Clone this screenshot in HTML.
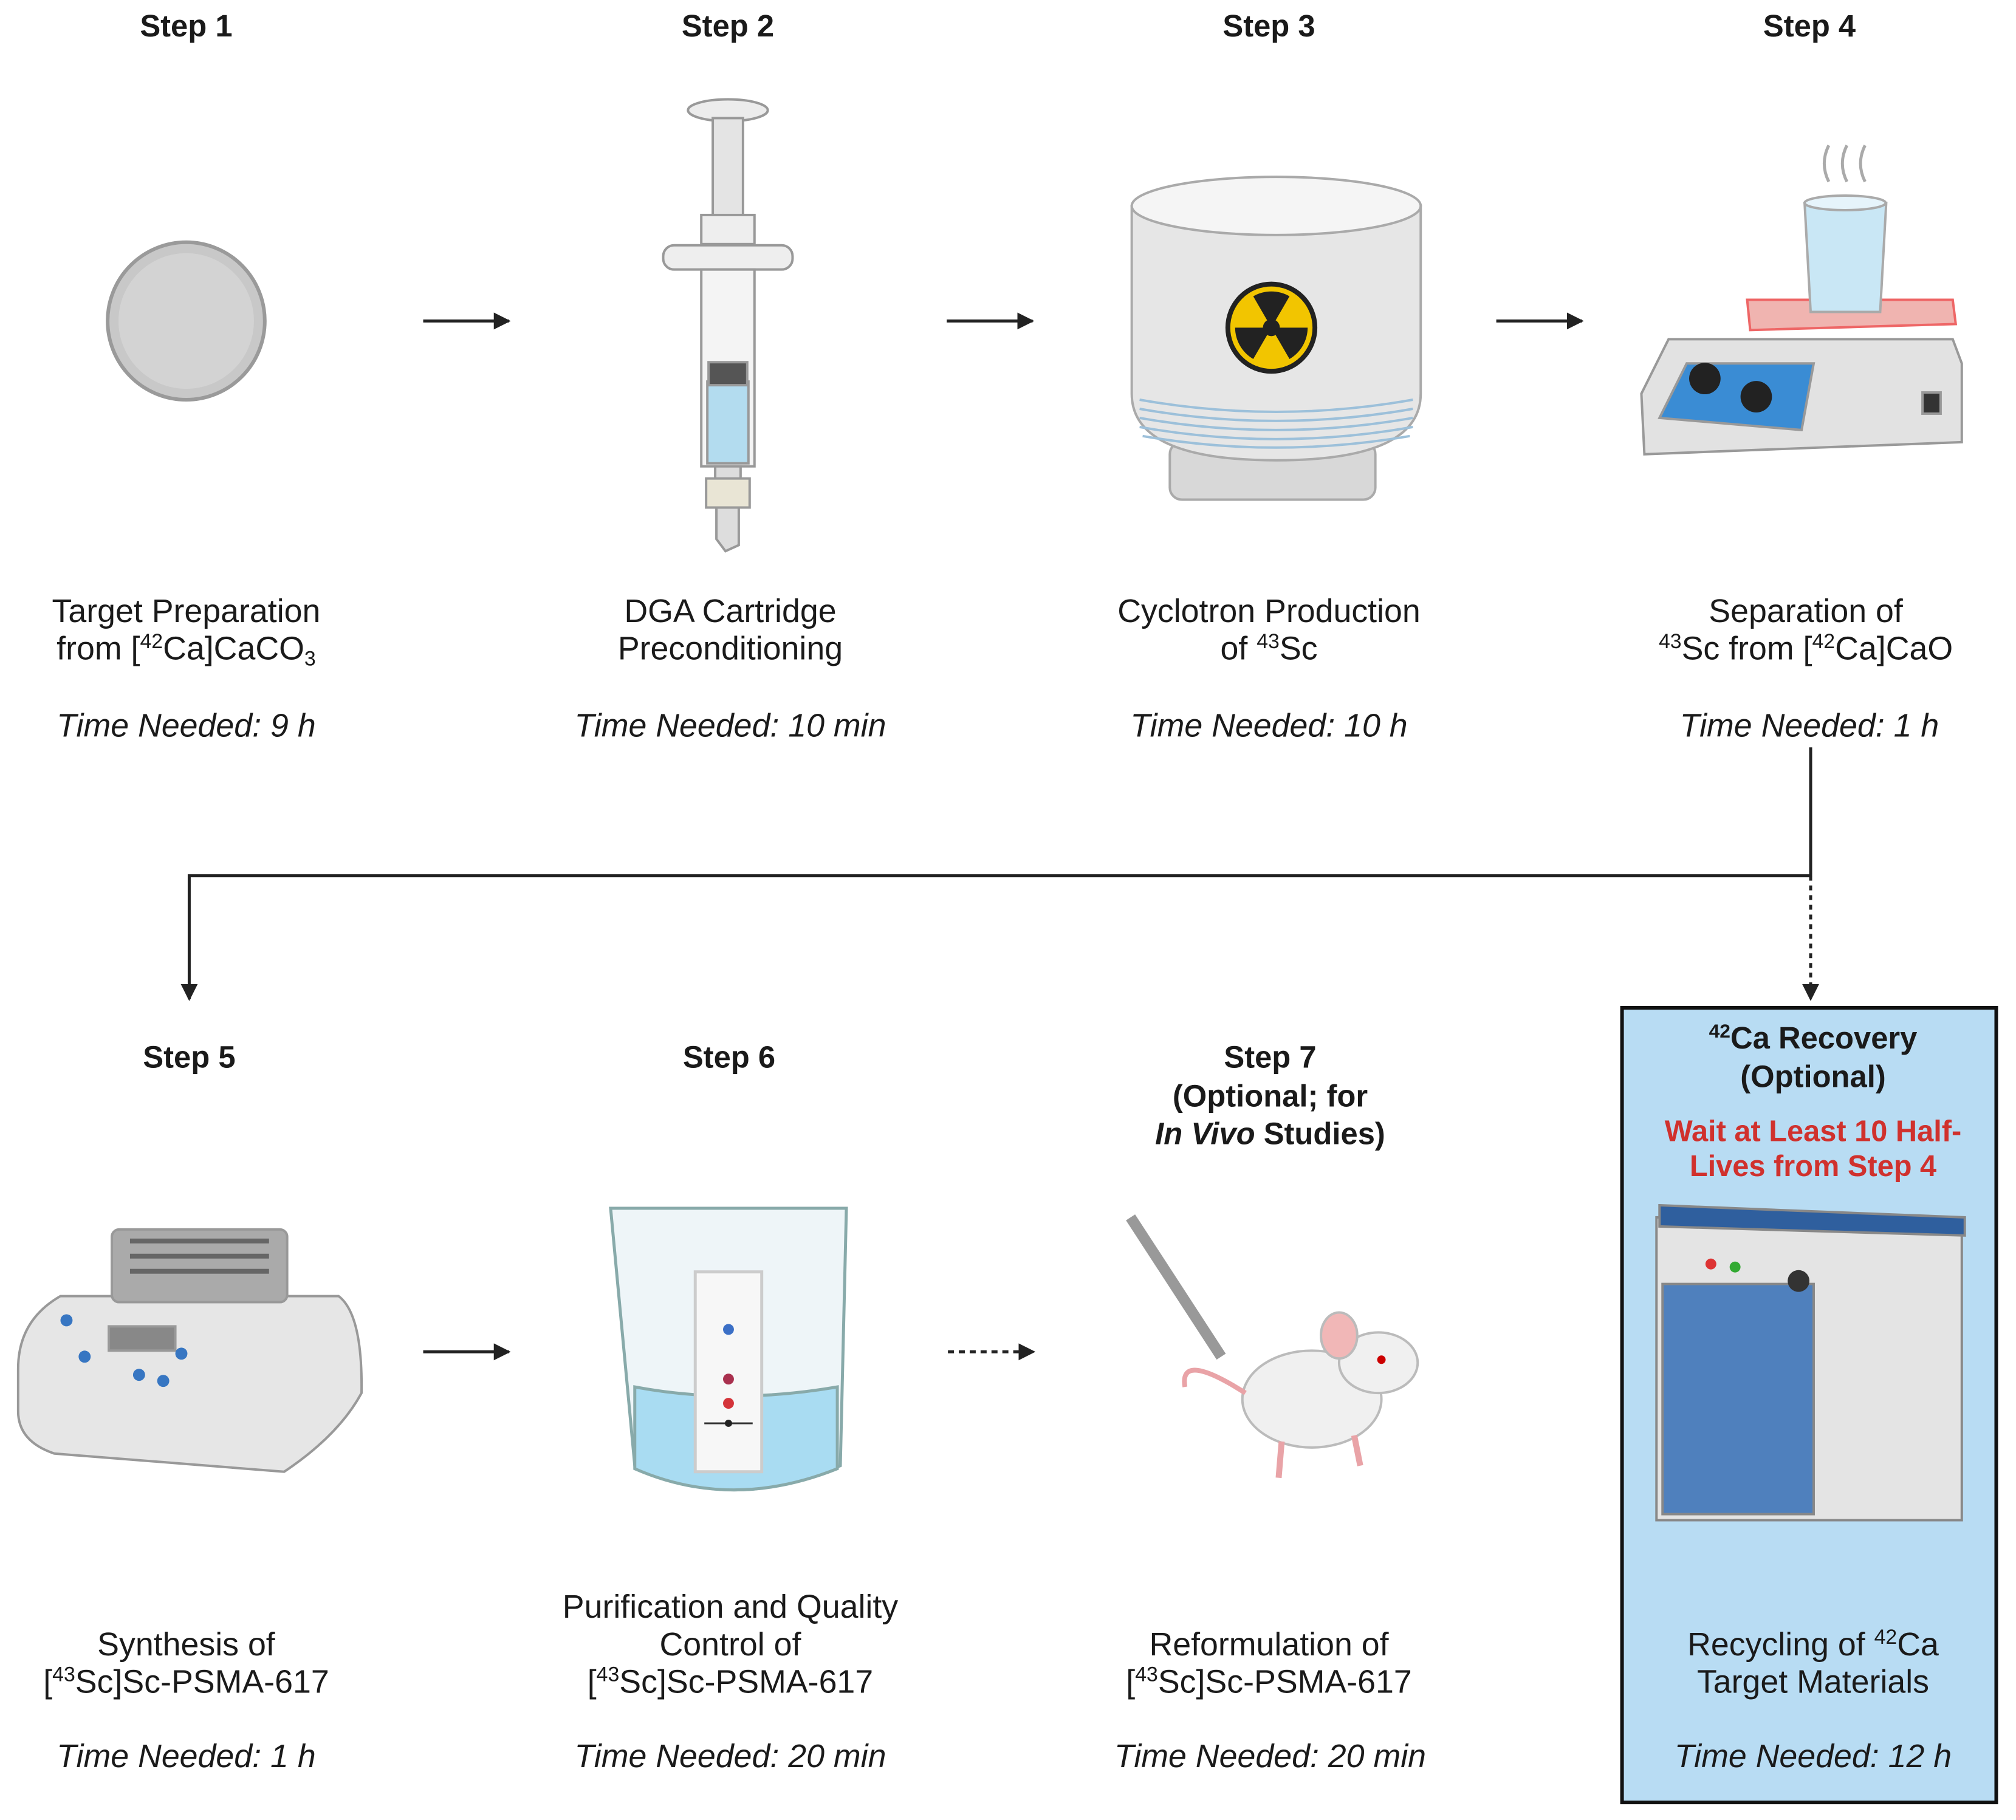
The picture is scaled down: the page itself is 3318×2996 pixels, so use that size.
<!DOCTYPE html>
<html><head><meta charset="utf-8"><style>
html,body{margin:0;padding:0;background:#fff}
svg{display:block}
text{font-family:"Liberation Sans",sans-serif;fill:#1a1a1a}
.st{font-size:51px;font-weight:bold;text-anchor:middle}
.lb{font-size:54px;text-anchor:middle}
.tm{font-size:54px;font-style:italic;text-anchor:middle}
.rd{font-size:49px;font-weight:bold;fill:#d0312d;text-anchor:middle}
</style></head><body>
<svg width="3318" height="2996" viewBox="0 0 3318 2996" xmlns="http://www.w3.org/2000/svg">
<defs>
<marker id="a2" viewBox="0 0 10 10" refX="9" refY="5" markerWidth="28" markerHeight="28" markerUnits="userSpaceOnUse" orient="auto"><path d="M0,0 L10,5 L0,10 z" fill="#222"/></marker>
</defs>
<g transform="scale(0.995,0.997)">
<rect x="2683" y="1664" width="619" height="1312" fill="#b8dcf3" stroke="#111" stroke-width="6"/>

<text class="st" x="308" y="60">Step 1</text>
<text class="st" x="1204" y="60">Step 2</text>
<text class="st" x="2099" y="60">Step 3</text>
<text class="st" x="2993" y="60">Step 4</text>
<text class="st" x="313" y="1763">Step 5</text>
<text class="st" x="1206" y="1763">Step 6</text>
<text class="st" x="2101" y="1763">Step 7</text>
<text class="st" x="2101" y="1827">(Optional; for</text>
<text class="st" x="2101" y="1889"><tspan font-style="italic">In Vivo</tspan> Studies)</text>
<text class="st" x="2999" y="1731"><tspan font-size="32" dy="-18">42</tspan><tspan dy="18">Ca Recovery</tspan></text>
<text class="st" x="2999" y="1795">(Optional)</text>
<text class="rd" x="2999" y="1884">Wait at Least 10 Half-</text>
<text class="rd" x="2999" y="1942">Lives from Step 4</text>

<text class="lb" x="308" y="1027">Target Preparation</text>
<text class="lb" x="308" y="1089">from [<tspan font-size="34" dy="-19">42</tspan><tspan dy="19">Ca]CaCO</tspan><tspan font-size="34" dy="10">3</tspan></text>
<text class="lb" x="1208" y="1027">DGA Cartridge</text>
<text class="lb" x="1208" y="1089">Preconditioning</text>
<text class="lb" x="2099" y="1027">Cyclotron Production</text>
<text class="lb" x="2099" y="1089">of <tspan font-size="34" dy="-19">43</tspan><tspan dy="19">Sc</tspan></text>
<text class="lb" x="2987" y="1027">Separation of</text>
<text class="lb" x="2987" y="1089"><tspan font-size="34" dy="-19">43</tspan><tspan dy="19">Sc from [</tspan><tspan font-size="34" dy="-19">42</tspan><tspan dy="19">Ca]CaO</tspan></text>
<text class="tm" x="308" y="1216">Time Needed: 9 h</text>
<text class="tm" x="1208" y="1216">Time Needed: 10 min</text>
<text class="tm" x="2099" y="1216">Time Needed: 10 h</text>
<text class="tm" x="2993" y="1216">Time Needed: 1 h</text>

<text class="lb" x="308" y="2733">Synthesis of</text>
<text class="lb" x="308" y="2795">[<tspan font-size="34" dy="-19">43</tspan><tspan dy="19">Sc]Sc-PSMA-617</tspan></text>
<text class="lb" x="1208" y="2671">Purification and Quality</text>
<text class="lb" x="1208" y="2733">Control of</text>
<text class="lb" x="1208" y="2795">[<tspan font-size="34" dy="-19">43</tspan><tspan dy="19">Sc]Sc-PSMA-617</tspan></text>
<text class="lb" x="2099" y="2733">Reformulation of</text>
<text class="lb" x="2099" y="2795">[<tspan font-size="34" dy="-19">43</tspan><tspan dy="19">Sc]Sc-PSMA-617</tspan></text>
<text class="lb" x="2999" y="2733">Recycling of <tspan font-size="34" dy="-19">42</tspan><tspan dy="19">Ca</tspan></text>
<text class="lb" x="2999" y="2795">Target Materials</text>
<text class="tm" x="308" y="2918">Time Needed: 1 h</text>
<text class="tm" x="1208" y="2918">Time Needed: 20 min</text>
<text class="tm" x="2101" y="2918">Time Needed: 20 min</text>
<text class="tm" x="2999" y="2918">Time Needed: 12 h</text>

<g stroke="#222" stroke-width="5" fill="none">
<line x1="700" y1="530" x2="842" y2="530" marker-end="url(#a2)"/>
<line x1="1566" y1="530" x2="1708" y2="530" marker-end="url(#a2)"/>
<line x1="2475" y1="530" x2="2617" y2="530" marker-end="url(#a2)"/>
<polyline points="2995,1234 2995,1446 313,1446 313,1650" marker-end="url(#a2)"/>
<line x1="2995" y1="1446" x2="2995" y2="1650" stroke-dasharray="8,8" marker-end="url(#a2)"/>
<line x1="700" y1="2232" x2="842" y2="2232" marker-end="url(#a2)"/>
<line x1="1568" y1="2232" x2="1710" y2="2232" stroke-dasharray="10,8" marker-end="url(#a2)"/>
</g>

<circle cx="308" cy="530" r="130" fill="#c8c8c8" stroke="#9a9a9a" stroke-width="6"/>
<circle cx="308" cy="530" r="112" fill="#d3d3d3"/>

<g stroke="#999" stroke-width="4">
<ellipse cx="1204" cy="182" rx="66" ry="18" fill="#ececec"/>
<rect x="1179" y="195" width="50" height="165" fill="#e4e4e4"/>
<rect x="1160" y="355" width="88" height="48" fill="#eee"/>
<rect x="1097" y="405" width="214" height="40" rx="18" fill="#eee"/>
<rect x="1160" y="445" width="88" height="325" fill="#f4f4f4"/>
<rect x="1170" y="630" width="68" height="135" fill="#b3dcef"/>
<rect x="1172" y="598" width="64" height="38" fill="#555"/>
<rect x="1183" y="770" width="42" height="30" fill="#ddd"/>
<rect x="1168" y="790" width="72" height="48" fill="#e9e5d5"/>
<polygon points="1185,838 1222,838 1222,900 1200,910 1185,890" fill="#ddd"/>
</g>

<g stroke="#aaa" stroke-width="4">
<rect x="1935" y="730" width="340" height="95" rx="20" fill="#d8d8d8"/>
<path d="M1872,340 L2350,340 L2350,650 Q2350,760 2111,760 Q1872,760 1872,650 Z" fill="#e6e6e6"/>
<ellipse cx="2111" cy="340" rx="239" ry="48" fill="#f5f5f5"/>
</g>
<g stroke="#9cc0da" stroke-width="4" fill="none">
<path d="M1885,660 Q2111,700 2337,660"/><path d="M1885,675 Q2111,715 2337,675"/><path d="M1885,690 Q2111,730 2337,690"/><path d="M1885,705 Q2111,745 2337,705"/><path d="M1890,720 Q2111,758 2332,720"/>
</g>
<circle cx="2103" cy="541" r="72" fill="#f2c500" stroke="#222" stroke-width="8"/>
<circle cx="2103" cy="541" r="14" fill="#222"/>
<path d="M2103,541 L2063,472 A80,80 0 0 1 2143,472 Z M2103,541 L2183,541 A80,80 0 0 1 2143,610 Z M2103,541 L2063,610 A80,80 0 0 1 2023,541 Z" fill="#222" transform="translate(2103,541) scale(0.75) translate(-2103,-541)"/>

<g stroke="#999" stroke-width="4">
<path d="M2715,650 L2760,560 L3230,560 L3245,600 L3245,730 L2720,750 Z" fill="#e2e2e2"/>
<polygon points="2745,690 2790,600 3000,600 2980,710" fill="#3a8cd4"/>
<polygon points="2890,495 3230,495 3235,535 2895,545" fill="#f0b4b0" stroke="#e66"/>
<path d="M2985,335 L3120,335 L3110,515 L2995,515 Z" fill="#c9e7f5" stroke="#aaa"/>
<ellipse cx="3052" cy="335" rx="67" ry="12" fill="#e6f4fb" stroke="#aaa"/>
<rect x="3180" y="648" width="30" height="35" fill="#333"/>
</g>
<circle cx="2820" cy="625" r="26" fill="#222"/><circle cx="2905" cy="655" r="26" fill="#222"/>
<path d="M3025,300 q-15,-30 0,-60 M3055,300 q-15,-30 0,-60 M3085,300 q-15,-30 0,-60" stroke="#aaa" stroke-width="5" fill="none"/>

<g stroke="#999" stroke-width="4">
<path d="M30,2260 Q30,2180 100,2140 L560,2140 Q600,2170 598,2300 Q560,2370 470,2430 L90,2400 Q30,2380 30,2330 Z" fill="#e6e6e6"/>
<rect x="185" y="2030" width="290" height="120" rx="12" fill="#aaa"/>
<rect x="180" y="2190" width="110" height="40" fill="#888"/>
</g>
<g fill="#3776c2"><circle cx="110" cy="2180" r="10"/><circle cx="140" cy="2240" r="10"/><circle cx="230" cy="2270" r="10"/><circle cx="270" cy="2280" r="10"/><circle cx="300" cy="2235" r="10"/></g>
<g fill="#666"><rect x="215" y="2045" width="230" height="8"/><rect x="215" y="2070" width="230" height="8"/><rect x="215" y="2095" width="230" height="8"/></g>

<g stroke="#8aa" stroke-width="5">
<path d="M1010,1995 L1400,1995 L1390,2420 Q1210,2500 1050,2420 Z" fill="#eef5f8"/>
<path d="M1050,2290 Q1210,2320 1385,2290 L1385,2425 Q1210,2495 1050,2425 Z" fill="#a9dcf2"/>
<rect x="1150" y="2100" width="110" height="330" fill="#f7f7f7" stroke="#ccc"/>
</g>
<circle cx="1205" cy="2195" r="9" fill="#3b6fc6"/><circle cx="1205" cy="2277" r="9" fill="#a9304e"/><circle cx="1205" cy="2317" r="9" fill="#d4343a"/>
<line x1="1165" y1="2350" x2="1245" y2="2350" stroke="#333" stroke-width="3"/><circle cx="1205" cy="2350" r="6" fill="#222"/>

<ellipse cx="2170" cy="2310" rx="115" ry="80" fill="#f0f0f0" stroke="#bbb" stroke-width="4"/>
<ellipse cx="2280" cy="2250" rx="65" ry="50" fill="#f0f0f0" stroke="#bbb" stroke-width="4"/>
<ellipse cx="2215" cy="2205" rx="30" ry="38" fill="#f1b7b7" stroke="#bbb" stroke-width="4"/>
<circle cx="2285" cy="2245" r="7" fill="#c00"/>
<path d="M2060,2300 Q1950,2230 1960,2290" stroke="#e9a3a7" stroke-width="8" fill="none"/>
<g stroke="#e9a3a7" stroke-width="10"><line x1="2120" y1="2380" x2="2115" y2="2440"/><line x1="2240" y1="2370" x2="2250" y2="2420"/></g>
<line x1="1870" y1="2010" x2="2020" y2="2240" stroke="#999" stroke-width="18"/>

<g stroke="#888" stroke-width="4">
<rect x="2740" y="2010" width="505" height="500" fill="#e4e4e4"/>
<polygon points="2745,1990 3250,2010 3250,2040 2745,2025" fill="#2f5f9e"/>
<rect x="2750" y="2120" width="250" height="380" fill="#4f80bd"/>
</g>
<circle cx="2830" cy="2087" r="9" fill="#d33"/><circle cx="2870" cy="2092" r="9" fill="#3a3"/><circle cx="2975" cy="2115" r="18" fill="#333"/>
</g>
</svg>
</body></html>
